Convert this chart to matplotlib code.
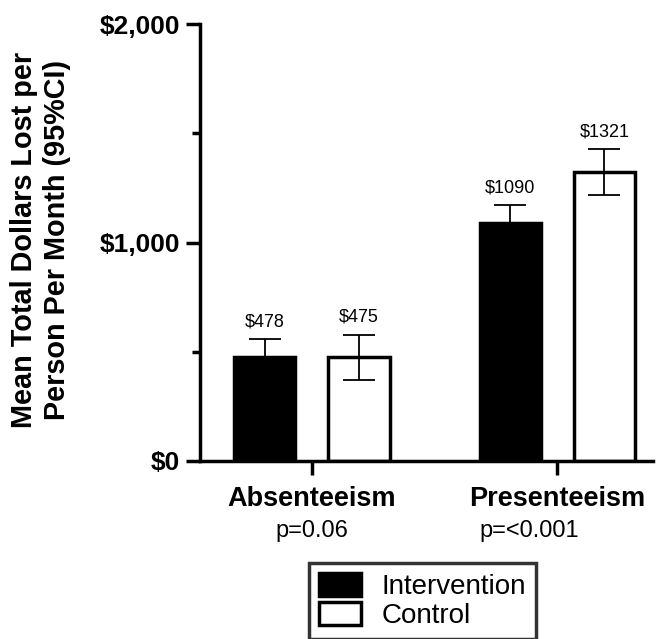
import matplotlib.pyplot as plt
import numpy as np

plt.rcParams['font.family'] = ['Liberation Sans', 'DejaVu Sans']

categories = ['Absenteeism', 'Presenteeism']
p_values = ['p=0.06', 'p=<0.001']
groups = ['Intervention', 'Control']
means = {'Intervention': [478, 1090], 'Control': [475, 1321]}
errors = {'Intervention': [80, 82], 'Control': [103, 105]}
value_labels = {'Intervention': ['$478', '$1090'], 'Control': ['$475', '$1321']}

fig = plt.figure(figsize=(6.57, 6.39), dpi=100)
ax = fig.add_axes([0.304, 0.2786, 0.69, 0.6838])

x = np.arange(len(categories))
width = 0.25
offsets = {'Intervention': -0.192, 'Control': 0.192}
faces = {'Intervention': 'black', 'Control': 'white'}

for g in groups:
    pos = x + offsets[g]
    ax.bar(pos, means[g], width, color=faces[g], edgecolor='black',
           linewidth=2.5, label=g, zorder=2)
    ax.errorbar(pos, means[g], yerr=errors[g], fmt='none', ecolor='black',
                elinewidth=1.3, capsize=11.5, capthick=1.3, zorder=3)
    for px, m, e, lab in zip(pos, means[g], errors[g], value_labels[g]):
        ax.text(px, m + e + 40, lab, ha='center', va='bottom', fontsize=13)

ax.set_xlim(-0.457, 0.39 + 1)
ax.set_ylim(0, 2000)
ax.set_yticks([0, 1000, 2000])
ax.set_yticklabels(['$0', '$1,000', '$2,000'], fontsize=19, fontweight='bold')
ax.set_yticks([500, 1500], minor=True)
ax.set_xticks(x)
ax.set_xticklabels(categories, fontsize=19.5, fontweight='bold')

# the second p-value sits a bit left of its tick in the original
p_shift = [0, -0.113]
for xi, p, sh in zip(x, p_values, p_shift):
    ax.text(xi + sh, -272, p, ha='center', va='top', fontsize=17)

ax.tick_params(axis='y', which='major', length=10, width=2.5, pad=4)
ax.tick_params(axis='y', which='minor', length=6, width=2.5)
ax.tick_params(axis='x', length=10, width=2.5, pad=8)

for s in ['top', 'right']:
    ax.spines[s].set_visible(False)
for s in ['left', 'bottom']:
    ax.spines[s].set_linewidth(2.5)

ax.set_ylabel('Mean Total Dollars Lost per\nPerson Per Month (95%CI)',
              fontsize=20.8, fontweight='bold', linespacing=1.25)
ax.yaxis.set_label_coords(-0.283, 0.506)

leg = fig.legend(loc='upper center', bbox_to_anchor=(0.643, 0.141), fontsize=20,
                 frameon=True, fancybox=False, edgecolor='black',
                 handlelength=1.5, handleheight=0.9, borderpad=0.35,
                 labelspacing=0.08, handletextpad=0.75)
leg.get_frame().set_linewidth(2.5)

fig.savefig('out.png', dpi=100)
